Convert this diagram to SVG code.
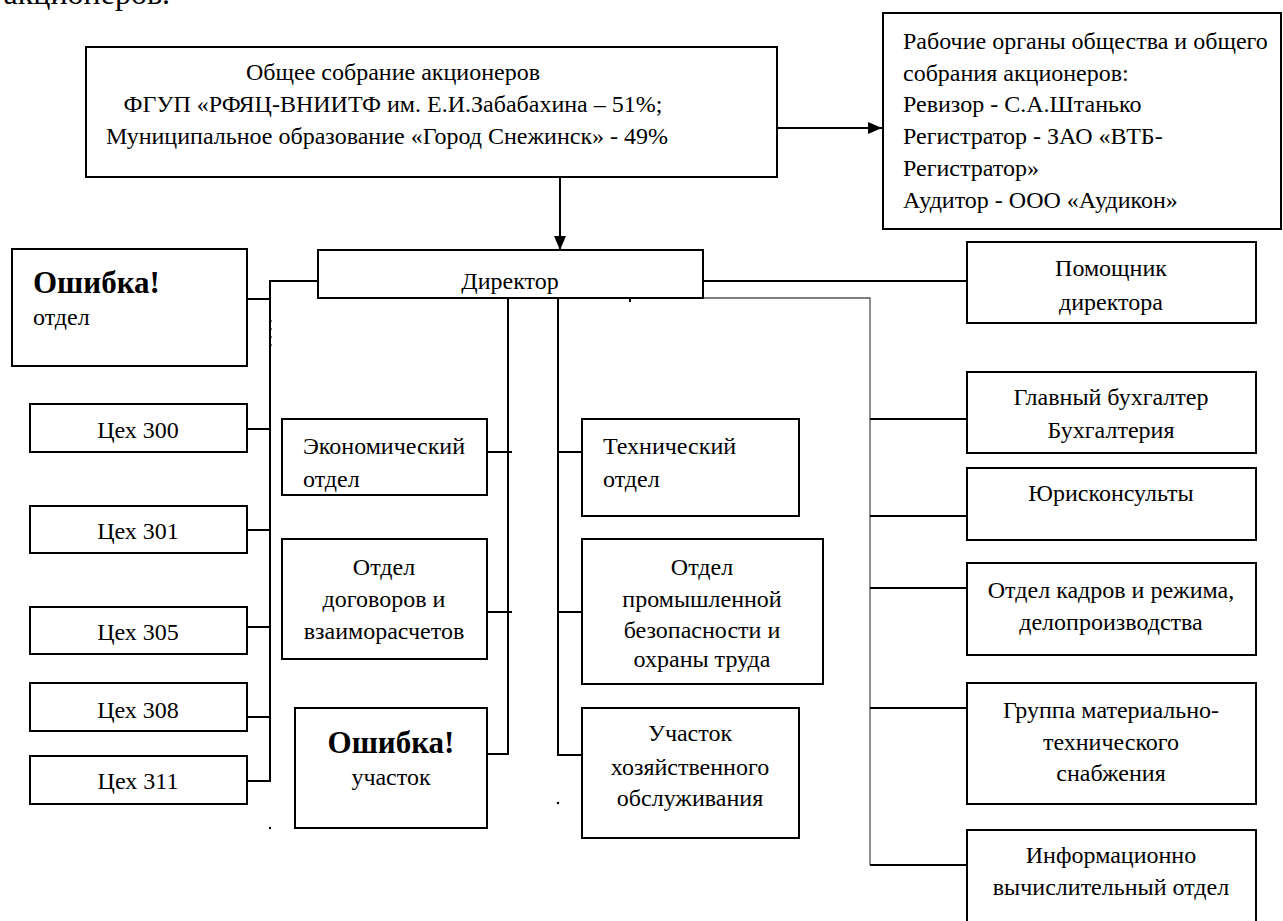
<svg xmlns="http://www.w3.org/2000/svg" width="1283" height="921" viewBox="0 0 1283 921">
<style>
.b{fill:#fff;stroke:#000;stroke-width:2}
.t{font-family:"Liberation Serif","Times New Roman",serif;font-size:24px;fill:#000}
.m{text-anchor:middle}
.bold{font-weight:bold;font-size:31px}
.c{stroke:#000;stroke-width:2;fill:none}
.g{stroke:#555;stroke-width:1.3;fill:none}
</style>
<defs>
<marker id="ah" markerWidth="14" markerHeight="12" refX="14" refY="6" orient="auto" markerUnits="userSpaceOnUse">
<path d="M0,0 L14,6 L0,12 Z" fill="#000"/>
</marker>
</defs>
<rect width="1283" height="921" fill="#fff"/>
<text class="t" x="170" y="4" style="font-size:32px" text-anchor="end">акционеров.</text>

<g id="connectors">
<line class="c" x1="560" y1="177" x2="560" y2="250" marker-end="url(#ah)"/>
<line class="c" x1="777" y1="128" x2="882" y2="128" marker-end="url(#ah)"/>
<polyline class="c" points="318,281 270,281 270,782"/>
<line class="c" x1="247" y1="299" x2="270" y2="299"/>
<line class="c" x1="247" y1="429" x2="270" y2="429"/>
<line class="c" x1="247" y1="530" x2="270" y2="530"/>
<line class="c" x1="247" y1="627" x2="270" y2="627"/>
<line class="c" x1="247" y1="717" x2="270" y2="717"/>
<line class="c" x1="247" y1="781" x2="271" y2="781"/>
<line class="c" x1="508" y1="298" x2="508" y2="755"/>
<line class="c" x1="487" y1="452" x2="512" y2="452"/>
<line class="c" x1="487" y1="612" x2="512" y2="612"/>
<line class="c" x1="487" y1="754" x2="509" y2="754"/>
<polyline class="c" points="558,298 558,755 582,755"/>
<line class="c" x1="558" y1="452" x2="582" y2="452"/>
<line class="c" x1="558" y1="612" x2="582" y2="612"/>
<line class="c" x1="703" y1="281" x2="967" y2="281"/>
<polyline class="g" points="703,298 870,298 870,865"/>
<line class="c" x1="870" y1="419" x2="967" y2="419"/>
<line class="c" x1="870" y1="516" x2="967" y2="516"/>
<line class="c" x1="870" y1="588" x2="967" y2="588"/>
<line class="c" x1="870" y1="708" x2="967" y2="708"/>
<line class="c" x1="870" y1="865" x2="967" y2="865"/>
<rect x="629" y="298" width="2" height="4" fill="#000"/>
<circle cx="270" cy="828" r="1.2" fill="#000"/>
<circle cx="558" cy="803" r="1.2" fill="#000"/>
<line x1="271" y1="320" x2="271" y2="348" stroke="#000" stroke-width="1" stroke-dasharray="2,6"/>
</g>

<g id="top">
<rect class="b" x="86" y="47" width="691" height="130"/>
<text class="t m" x="393" y="80">Общее собрание акционеров</text>
<text class="t m" x="393" y="112">ФГУП «РФЯЦ-ВНИИТФ им. Е.И.Забабахина – 51%;</text>
<text class="t m" x="387" y="144">Муниципальное образование «Город Снежинск» - 49%</text>
</g>

<g id="organs">
<rect class="b" x="883" y="13" width="398" height="216"/>
<text class="t" x="903" y="49">Рабочие органы общества и общего</text>
<text class="t" x="903" y="81">собрания акционеров:</text>
<text class="t" x="903" y="112">Ревизор - С.А.Штанько</text>
<text class="t" x="903" y="144">Регистратор - ЗАО «ВТБ-</text>
<text class="t" x="903" y="176">Регистратор»</text>
<text class="t" x="903" y="208">Аудитор - ООО «Аудикон»</text>
</g>

<g id="director">
<rect class="b" x="318" y="250" width="385" height="48"/>
<text class="t m" x="510" y="289">Директор</text>
</g>

<g id="err-otdel">
<rect class="b" x="12" y="249" width="235" height="117"/>
<text class="t bold" x="33" y="293">Ошибка!</text>
<text class="t" x="33" y="325">отдел</text>
</g>
<g id="ceh300"><rect class="b" x="30" y="404" width="217" height="48"/><text class="t m" x="138" y="438">Цех 300</text></g>
<g id="ceh301"><rect class="b" x="30" y="506" width="217" height="47"/><text class="t m" x="138" y="539">Цех 301</text></g>
<g id="ceh305"><rect class="b" x="30" y="607" width="217" height="47"/><text class="t m" x="138" y="640">Цех 305</text></g>
<g id="ceh308"><rect class="b" x="30" y="683" width="217" height="48"/><text class="t m" x="138" y="718">Цех 308</text></g>
<g id="ceh311"><rect class="b" x="30" y="756" width="217" height="48"/><text class="t m" x="138" y="789">Цех 311</text></g>

<g id="econ">
<rect class="b" x="282" y="419" width="205" height="76"/>
<text class="t" x="303" y="454">Экономический</text>
<text class="t" x="303" y="487">отдел</text>
</g>
<g id="dogovor">
<rect class="b" x="282" y="539" width="205" height="120"/>
<text class="t m" x="384" y="575">Отдел</text>
<text class="t m" x="384" y="607">договоров и</text>
<text class="t m" x="384" y="639">взаиморасчетов</text>
</g>
<g id="err-uchastok">
<rect class="b" x="295" y="708" width="192" height="120"/>
<text class="t bold m" x="391" y="753">Ошибка!</text>
<text class="t m" x="391" y="785">участок</text>
</g>

<g id="tech">
<rect class="b" x="582" y="419" width="217" height="97"/>
<text class="t" x="603" y="454">Технический</text>
<text class="t" x="603" y="487">отдел</text>
</g>
<g id="prombez">
<rect class="b" x="582" y="539" width="241" height="145"/>
<text class="t m" x="702" y="575">Отдел</text>
<text class="t m" x="702" y="607">промышленной</text>
<text class="t m" x="702" y="638">безопасности и</text>
<text class="t m" x="702" y="667">охраны труда</text>
</g>
<g id="hoz">
<rect class="b" x="582" y="708" width="217" height="130"/>
<text class="t m" x="690" y="741">Участок</text>
<text class="t m" x="690" y="775">хозяйственного</text>
<text class="t m" x="690" y="806">обслуживания</text>
</g>

<g id="pomoshnik">
<rect class="b" x="967" y="242" width="289" height="81"/>
<text class="t m" x="1111" y="276">Помощник</text>
<text class="t m" x="1111" y="310">директора</text>
</g>
<g id="buh">
<rect class="b" x="967" y="372" width="289" height="81"/>
<text class="t m" x="1111" y="405">Главный бухгалтер</text>
<text class="t m" x="1111" y="438">Бухгалтерия</text>
</g>
<g id="jur">
<rect class="b" x="967" y="468" width="289" height="72"/>
<text class="t m" x="1111" y="501">Юрисконсульты</text>
</g>
<g id="kadry">
<rect class="b" x="967" y="563" width="289" height="92"/>
<text class="t m" x="1111" y="598">Отдел кадров и режима,</text>
<text class="t m" x="1111" y="630">делопроизводства</text>
</g>
<g id="mts">
<rect class="b" x="967" y="683" width="289" height="121"/>
<text class="t m" x="1111" y="718">Группа материально-</text>
<text class="t m" x="1111" y="750">технического</text>
<text class="t m" x="1111" y="781">снабжения</text>
</g>
<g id="ivo">
<rect class="b" x="967" y="830" width="289" height="100"/>
<text class="t m" x="1111" y="863">Информационно</text>
<text class="t m" x="1111" y="895">вычислительный отдел</text>
</g>
</svg>
